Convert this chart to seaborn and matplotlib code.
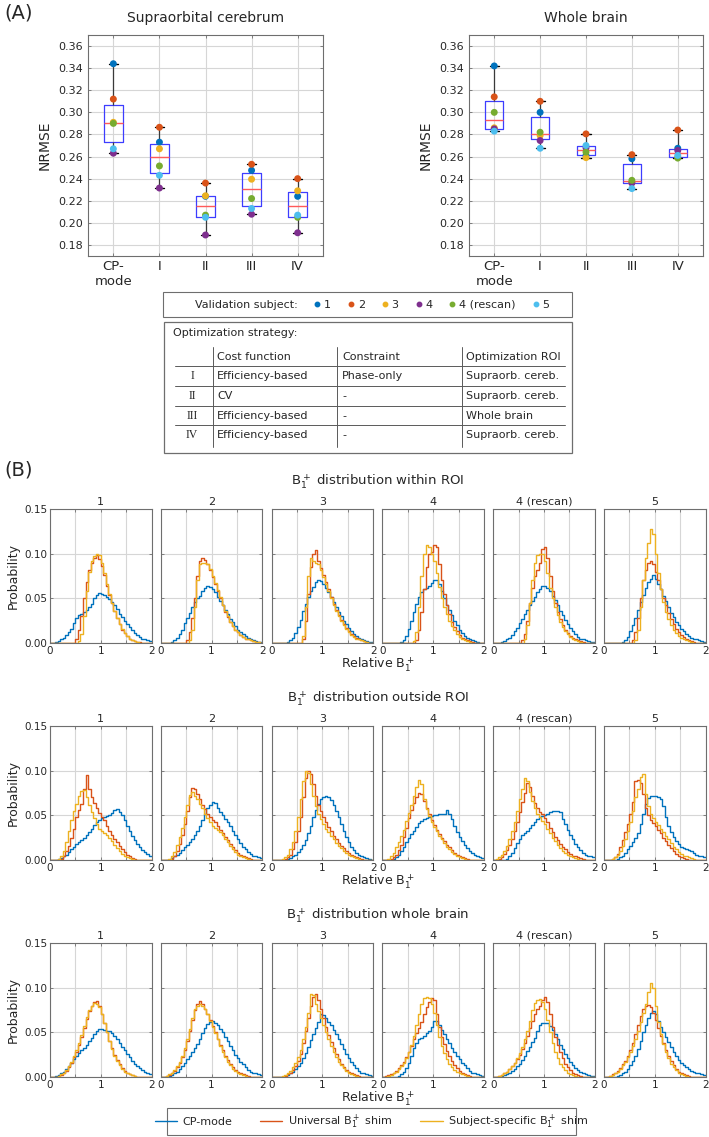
import numpy as np
import pandas as pd
import matplotlib
matplotlib.use("Agg")
import matplotlib.pyplot as plt
from matplotlib.lines import Line2D
from matplotlib.patches import Rectangle
import seaborn as sns

W, H = 709, 1137

# ---------------- panel A data ----------------
strategies = ["CP-\nmode", "I", "II", "III", "IV"]
subjects = ["1", "2", "3", "4", "4 (rescan)", "5"]
subject_colors = ["#0072BD", "#D95319", "#EDB120", "#7E2F8E", "#77AC30", "#4DBEEE"]

# NRMSE, rows = strategy, columns = subject
nrmse_supraorb = [
    [0.344, 0.312, 0.291, 0.263, 0.290, 0.267],
    [0.273, 0.2865, 0.267, 0.2315, 0.2515, 0.243],
    [0.224, 0.236, 0.2245, 0.189, 0.207, 0.205],
    [0.2475, 0.253, 0.2395, 0.2078, 0.222, 0.213],
    [0.224, 0.240, 0.229, 0.191, 0.205, 0.207],
]
nrmse_whole = [
    [0.342, 0.314, 0.286, 0.285, 0.300, 0.283],
    [0.300, 0.310, 0.279, 0.2745, 0.282, 0.2675],
    [0.261, 0.2805, 0.259, 0.268, 0.264, 0.270],
    [0.258, 0.2617, 0.2365, 0.236, 0.2385, 0.231],
    [0.2675, 0.284, 0.2595, 0.2655, 0.2586, 0.261],
]
nrmse_ticks = [0.18, 0.20, 0.22, 0.24, 0.26, 0.28, 0.30, 0.32, 0.34, 0.36]

table_ids = ["I", "II", "III", "IV"]
table_cost = ["Efficiency-based", "CV", "Efficiency-based", "Efficiency-based"]
table_constraint = ["Phase-only", "-", "-", "-"]
table_roi = ["Supraorb. cereb.", "Supraorb. cereb.", "Whole brain", "Supraorb. cereb."]

# ---------------- panel B data ----------------
# probability per bin (x 1e-3), 40 bins of 0.05 from 0 to 2, one list per subject
within_cp = [
    [0,0,1,2,4,6,9,12,16,22, 28,31,33,35,37,40,44,50,54,56, 55,54,52,49,46,42,38,33,29,25, 21,18,14,11,9,7,5,4,3,2],
    [0,0,0,0,1,3,6,10,15,22, 28,34,40,46,50,53,58,62,64,63, 61,57,52,47,42,37,32,27,23,19, 15,12,10,8,6,4,3,2,1,1],
    [0,0,0,0,0,0,1,3,6,11, 18,26,36,44,52,58,63,68,70,69, 66,62,57,51,46,40,35,30,25,21, 17,13,10,8,6,4,3,2,1,1],
    [0,0,0,0,0,0,0,1,3,8, 16,25,35,44,51,57,60,62,64,67, 70,71,66,58,50,43,37,31,25,20, 15,11,8,6,4,3,2,1,0,0],
    [0,0,0,1,2,4,6,9,13,17, 22,27,32,37,42,47,52,57,61,64, 64,62,58,53,48,42,36,31,26,21, 17,13,10,7,5,4,3,2,1,1],
    [0,0,0,0,0,0,0,1,3,7, 13,20,28,37,46,54,62,68,72,76, 72,66,60,53,47,40,34,29,24,20, 16,13,10,8,6,5,4,3,2,1],
]
within_universal = [
    [0,0,0,0,0,0,0,0,0,0, 5,15,30,50,68,82,90,95,98,94, 86,76,64,54,45,36,28,21,15,11, 8,5,3,2,1,1,0,0,0,0],
    [0,0,0,0,0,0,0,0,0,0, 3,12,28,50,75,92,95,93,88,82, 74,66,58,50,42,35,29,24,19,15, 12,9,7,5,4,3,2,1,1,0],
    [0,0,0,0,0,0,0,0,0,0, 0,0,5,25,55,85,100,104,92,84, 76,68,60,52,44,37,31,26,21,17, 13,10,8,6,4,3,2,1,0,0],
    [0,0,0,0,0,0,0,0,0,0, 0,0,0,3,15,35,60,85,100,102, 110,108,88,70,55,42,32,24,18,13, 9,6,4,3,2,1,0,0,0,0],
    [0,0,0,0,0,0,0,0,0,0, 0,3,10,25,45,62,75,82,90,105, 108,95,75,58,45,35,27,20,15,11, 8,6,4,3,2,1,0,0,0,0],
    [0,0,0,0,0,0,0,0,0,0, 0,3,12,28,50,70,82,90,92,88, 80,70,60,50,42,34,27,21,16,12, 9,7,5,3,2,1,0,0,0,0],
]
within_specific = [
    [0,0,0,0,0,0,0,0,0,0, 0,2,10,30,58,80,92,97,100,99, 90,78,66,55,45,36,28,21,16,11, 8,5,3,2,1,0,0,0,0,0],
    [0,0,0,0,0,0,0,0,0,0, 0,3,15,40,70,88,90,89,88,83, 75,67,59,51,43,36,30,24,19,15, 12,9,7,5,4,3,2,1,1,0],
    [0,0,0,0,0,0,0,0,0,0, 0,0,8,40,75,95,92,90,88,82, 74,66,58,50,43,36,30,25,20,16, 12,9,7,5,4,3,2,1,0,0],
    [0,0,0,0,0,0,0,0,0,0, 0,0,2,12,40,75,100,110,108,100, 92,78,63,50,40,32,25,19,14,10, 7,5,3,2,1,0,0,0,0,0],
    [0,0,0,0,0,0,0,0,0,0, 0,0,5,20,45,70,90,98,100,100, 92,78,62,50,40,31,24,18,13,10, 7,5,3,2,1,0,0,0,0,0],
    [0,0,0,0,0,0,0,0,0,0, 0,0,3,15,40,70,95,112,128,122, 100,78,60,46,35,27,20,15,11,8, 6,4,3,2,1,0,0,0,0,0],
]
outside_cp = [
    [0,0,0,1,2,4,6,9,12,15, 18,20,22,25,28,31,35,39,42,45, 47,48,49,50,53,56,57,54,50,45, 38,32,27,22,18,14,11,9,7,5],
    [0,0,0,0,2,4,6,8,11,14, 17,20,24,28,33,38,45,52,58,62, 65,64,58,54,50,46,42,38,33,28, 23,19,15,12,9,7,5,4,3,2],
    [0,0,0,0,0,0,1,2,4,6, 9,12,17,22,30,38,48,56,63,68, 71,72,70,67,62,55,48,40,33,26, 20,15,11,8,6,4,3,2,1,0],
    [0,0,0,0,1,3,6,10,15,20, 25,29,33,37,41,44,46,47,48,49, 50,50,51,52,51,56,52,46,38,31, 26,21,17,13,10,8,6,5,3,2],
    [0,0,0,0,0,1,4,8,13,19, 24,28,30,33,36,39,43,46,48,49, 50,52,54,55,55,55,54,46,40,34, 28,23,18,14,11,8,6,5,4,3],
    [0,0,0,0,0,1,3,5,8,12, 16,20,25,30,40,52,63,69,72,72, 72,71,68,60,48,38,31,26,21,18, 15,13,12,11,10,8,6,5,4,3],
]
outside_universal = [
    [0,0,0,0,1,5,10,16,25,35, 48,56,63,80,95,80,70,64,58,53, 48,45,38,33,28,24,20,16,12,9, 6,4,2,1,0,0,0,0,0,0],
    [0,0,0,0,1,4,10,18,28,40, 55,70,81,79,74,68,62,57,52,48, 45,42,38,34,30,26,22,18,14,11, 8,6,4,3,2,1,0,0,0,0],
    [0,0,0,0,0,1,3,6,12,20, 32,48,70,92,100,96,85,72,62,55, 48,42,37,32,27,23,19,16,13,10, 8,6,4,3,2,1,0,0,0,0],
    [0,0,0,1,3,6,11,17,26,36, 47,56,64,70,75,74,66,58,51,45, 39,34,29,25,21,17,14,11,8,6, 4,3,2,1,0,0,0,0,0,0],
    [0,0,1,3,7,11,17,24,33,42, 54,65,75,86,82,72,64,58,54,51, 47,42,36,31,26,22,18,15,12,9, 7,5,4,3,2,1,0,0,0,0],
    [0,0,0,1,3,7,14,22,31,40, 52,65,88,90,86,74,58,50,45,41, 38,34,30,25,21,17,13,10,7,5, 3,2,1,0,0,0,0,0,0,0],
]
outside_specific = [
    [0,0,0,1,4,10,20,32,45,55, 63,72,77,78,70,62,54,47,40,35, 32,30,28,25,21,17,13,10,7,5, 3,2,1,0,0,0,0,0,0,0],
    [0,0,0,1,4,9,17,26,36,48, 62,73,76,72,68,63,58,52,47,42, 38,36,34,31,28,24,20,16,12,9, 6,4,3,2,1,0,0,0,0,0],
    [0,0,0,0,1,3,6,12,20,32, 48,68,88,100,97,85,72,60,52,46, 40,35,31,27,23,19,16,13,10,8, 6,4,3,2,1,0,0,0,0,0],
    [0,0,1,4,8,14,20,27,34,44, 53,62,72,82,90,85,68,57,49,43, 37,32,27,23,19,15,12,9,7,5, 3,2,1,0,0,0,0,0,0,0],
    [0,1,3,6,10,16,23,32,42,55, 68,80,92,88,76,66,58,52,48,44, 40,35,30,25,21,17,13,10,8,6, 4,3,2,1,0,0,0,0,0,0],
    [0,0,0,1,3,6,10,16,24,33, 42,55,70,80,93,96,74,60,52,47, 43,39,35,31,27,23,19,15,12,9, 7,5,4,3,2,1,0,0,0,0],
]
whole_cp = [
    [0,0,1,2,4,6,9,12,16,20, 24,27,30,33,36,40,44,48,52,54, 54,53,52,51,49,46,42,38,34,30, 26,22,18,15,12,10,8,6,4,3],
    [0,0,0,1,2,4,6,9,12,16, 20,24,28,32,37,43,49,55,59,62, 63,61,58,54,50,45,40,35,30,25, 21,17,14,11,8,6,5,4,3,2],
    [0,0,0,0,0,1,2,4,6,9, 12,16,21,27,34,41,48,55,62,70, 69,66,62,58,53,48,43,37,31,26, 21,17,13,10,7,5,4,3,2,1],
    [0,0,0,0,0,0,1,3,6,10, 16,24,32,38,42,44,46,49,52,56, 63,63,58,53,48,43,38,33,28,24, 20,16,13,10,7,5,4,3,2,1],
    [0,0,0,1,2,3,5,7,9,12, 15,19,24,29,34,39,44,52,58,61, 61,60,57,53,48,42,36,31,26,21, 17,13,10,8,6,4,3,2,1,1],
    [0,0,0,0,0,1,2,4,6,9, 13,18,24,31,40,50,58,66,72,74, 70,63,56,50,45,39,34,28,23,19, 16,13,11,9,7,6,5,4,3,2],
]
whole_universal = [
    [0,0,0,1,2,4,7,11,16,22, 28,36,45,55,65,74,80,84,85,79, 70,60,50,40,32,25,19,14,10,7, 5,3,2,1,0,0,0,0,0,0],
    [0,0,1,2,4,7,11,16,22,30, 40,52,64,75,82,85,82,76,70,64, 57,50,43,36,30,24,19,15,11,8, 6,4,3,2,1,0,0,0,0,0],
    [0,0,0,0,0,1,3,5,8,12, 18,26,38,52,66,80,90,93,86,76, 66,56,47,39,32,26,20,15,11,8, 6,4,3,2,1,0,0,0,0,0],
    [0,1,2,3,5,7,10,13,17,22, 28,35,42,49,55,62,70,78,84,88, 86,70,56,45,37,29,23,18,13,10, 7,5,3,2,1,0,0,0,0,0],
    [0,0,1,2,4,6,9,12,16,20, 25,31,38,46,55,63,70,76,80,86, 90,84,70,56,45,36,28,21,15,11, 8,5,3,2,1,0,0,0,0,0],
    [0,0,1,3,5,7,10,14,18,24, 30,38,48,58,68,76,80,81,78,72, 64,55,46,38,30,24,18,13,9,6, 4,3,2,1,0,0,0,0,0,0],
]
whole_specific = [
    [0,0,0,1,3,5,8,12,17,23, 30,38,47,57,67,75,80,83,82,78, 70,60,50,40,31,24,18,13,9,6, 4,3,2,1,0,0,0,0,0,0],
    [0,0,1,3,5,8,12,17,24,32, 42,54,66,76,80,82,80,76,70,63, 56,49,42,35,28,22,17,13,9,7, 5,3,2,1,0,0,0,0,0,0],
    [0,0,0,0,1,2,4,7,11,16, 22,30,42,56,72,93,92,82,74,66, 58,50,42,35,28,22,17,13,10,7, 5,3,2,1,0,0,0,0,0,0],
    [0,0,1,2,4,6,9,12,16,21, 28,36,46,58,70,82,88,90,88,82, 72,58,45,35,27,20,15,11,8,6, 4,3,2,1,0,0,0,0,0,0],
    [0,0,1,2,4,6,9,12,16,21, 27,34,42,52,63,75,83,86,87,84, 76,64,50,38,28,21,15,11,8,5, 3,2,1,0,0,0,0,0,0,0],
    [0,0,1,2,4,6,9,13,17,22, 28,35,43,52,62,72,82,95,105,100, 80,62,48,37,28,21,15,11,8,5, 3,2,1,0,0,0,0,0,0,0],
]

row_titles = [r"B$_1^+$ distribution within ROI",
              r"B$_1^+$ distribution outside ROI",
              r"B$_1^+$ distribution whole brain"]
shim_labels = ["CP-mode", r"Universal B$_1^+$ shim", r"Subject-specific B$_1^+$ shim"]
shim_colors = ["#0072BD", "#D95319", "#EDB120"]

n_bins = 40
b1_range = (0.0, 2.0)
bin_centers = b1_range[0] + (np.arange(n_bins) + 0.5) * (b1_range[1] - b1_range[0]) / n_bins

# ---------------- style ----------------
sns.set_theme(style="white")
plt.rcParams["font.family"] = ["DejaVu Sans"]
plt.rcParams["mathtext.fontset"] = "dejavusans"
TXT = "#262626"
GRID = "#d6d6d6"
SPINE = "#6e6e6e"


def frac_axes(fig, x0, y0, x1, y1):
    return fig.add_axes([x0 / W, 1 - y1 / H, (x1 - x0) / W, (y1 - y0) / H])


def matlab_style(ax):
    ax.grid(True, color=GRID, linewidth=0.8)
    ax.set_axisbelow(True)
    for sp in ax.spines.values():
        sp.set_color(SPINE)
        sp.set_linewidth(0.8)
    ax.tick_params(direction="in", length=2.5, width=0.6, color=SPINE,
                   labelcolor=TXT, top=True, right=True, bottom=True, left=True)


fig = plt.figure(figsize=(W / 100, H / 100), dpi=100)

# ---------------- panel A ----------------
rows = []
for i, strat in enumerate(strategies):
    for j, subj in enumerate(subjects):
        rows.append((strat, subj, nrmse_supraorb[i][j], nrmse_whole[i][j]))
df = pd.DataFrame(rows, columns=["strategy", "subject", "supraorb", "whole"])

box_axes = [
    (frac_axes(fig, 88, 35, 323, 256), "supraorb", "Supraorbital cerebrum"),
    (frac_axes(fig, 469, 35, 703, 256), "whole", "Whole brain"),
]
for ax, col, title in box_axes:
    sns.boxplot(data=df, x="strategy", y=col, order=strategies, whis=(0, 100),
                width=0.4, fill=False, color="#3d3dff", linewidth=0.9,
                showfliers=False,
                medianprops=dict(color="#ff5a5a", linewidth=1.0),
                whiskerprops=dict(color="#3a3a3a", linewidth=0.9),
                capprops=dict(color="black", linewidth=1.0), ax=ax)
    sns.stripplot(data=df, x="strategy", y=col, order=strategies, hue="subject",
                  hue_order=subjects, palette=subject_colors, jitter=False,
                  size=5, linewidth=0, legend=False, zorder=4, ax=ax)
    matlab_style(ax)
    ax.set_xlim(-0.55, 4.55)
    ax.set_ylim(0.17, 0.37)
    ax.set_yticks(nrmse_ticks)
    ax.set_yticklabels([f"{v:.2f}" for v in nrmse_ticks])
    ax.tick_params(axis="y", labelsize=8)
    ax.tick_params(axis="x", labelsize=9.5, pad=3)
    ax.set_xlabel("")
    ax.set_ylabel("NRMSE", fontsize=10, color=TXT, labelpad=5)
    bb = ax.get_position()
    fig.text((bb.x0 + bb.x1) / 2, 1 - 18 / H, title, ha="center", va="center",
             fontsize=10, color=TXT)

fig.text(4 / W, 1 - 13 / H, "(A)", ha="left", va="center", fontsize=14, color=TXT)

# validation subject legend
fig.patches.append(Rectangle((163 / W, 1 - 317 / H), 409 / W, 25 / H,
                             transform=fig.transFigure, fill=False,
                             edgecolor=SPINE, linewidth=0.8))
sub_handles = [Line2D([], [], ls="none")] + [
    Line2D([], [], ls="none", marker="o", ms=3.2, color=c) for c in subject_colors]
fig.legend(sub_handles, ["Validation subject:"] + subjects, ncol=7,
           loc="center", bbox_to_anchor=(367 / W, 1 - 304.5 / H), frameon=False,
           fontsize=8, handlelength=0.6, handletextpad=0.3, columnspacing=1.5,
           labelcolor=TXT)

# optimization strategy table
tab = frac_axes(fig, 163, 321, 572, 453)
tab.set_xlim(163, 572)
tab.set_ylim(453, 321)
tab.axis("off")
tab.add_patch(Rectangle((163.5, 321.5), 408, 131, fill=False,
                        edgecolor=SPINE, linewidth=0.9, clip_on=False))
tab.text(173, 333, "Optimization strategy:", ha="left", va="center", fontsize=8, color=TXT)
col_x = [217, 342, 466]
for x, head in zip(col_x, ["Cost function", "Constraint", "Optimization ROI"]):
    tab.text(x, 357, head, ha="left", va="center", fontsize=8, color=TXT)
row_y = [376, 396, 416, 435]
for y, rid, cst, con, roi in zip(row_y, table_ids, table_cost, table_constraint, table_roi):
    tab.text(192, y, rid, ha="center", va="center", fontsize=8.5, color=TXT,
             family=["Liberation Serif", "DejaVu Serif"])
    for x, s in zip(col_x, [cst, con, roi]):
        tab.text(x, y, s, ha="left", va="center", fontsize=8, color=TXT)
for y in [366, 386, 406, 425]:
    tab.plot([175, 565], [y, y], color="#5a5a5a", linewidth=0.7)
for x in [213, 337, 462]:
    tab.plot([x, x], [347, 447], color="#5a5a5a", linewidth=0.7)

# ---------------- panel B ----------------
fig.text(4 / W, 1 - 470 / H, "(B)", ha="left", va="center", fontsize=14, color=TXT)

row_tops = [509, 726, 943]
hist_rows = [
    (within_cp, within_universal, within_specific),
    (outside_cp, outside_universal, outside_specific),
    (whole_cp, whole_universal, whole_specific),
]
panel_left = [50, 160.8, 271.6, 382.4, 493.2, 604]
panel_w = 101.5
panel_h = 134

for r, series in enumerate(hist_rows):
    top = row_tops[r]
    fig.text(378 / W, 1 - (top - 27) / H, row_titles[r], ha="center", va="center",
             fontsize=9.5, color=TXT)
    fig.text(378 / W, 1 - (top + panel_h + 22) / H, r"Relative B$_1^+$",
             ha="center", va="center", fontsize=9, color=TXT)
    for c in range(6):
        ax = frac_axes(fig, panel_left[c], top, panel_left[c] + panel_w, top + panel_h)
        for vals, color in zip(series, shim_colors):
            hd = pd.DataFrame({"b1": bin_centers, "prob": np.array(vals[c]) / 1000.0})
            sns.histplot(data=hd, x="b1", weights="prob", bins=n_bins,
                         binrange=b1_range, element="step", fill=False,
                         color=color, linewidth=1.0, ax=ax)
        matlab_style(ax)
        ax.set_xlim(0, 2)
        ax.set_ylim(0, 0.15)
        ax.set_xticks([0, 0.5, 1, 1.5, 2])
        ax.set_xticklabels(["0", "", "1", "", "2"])
        ax.set_yticks([0, 0.05, 0.10, 0.15])
        if c == 0:
            ax.set_yticklabels(["0.00", "0.05", "0.10", "0.15"])
            ax.set_ylabel("Probability", fontsize=9, color=TXT, labelpad=3)
        else:
            ax.set_yticklabels([])
            ax.set_ylabel("")
        ax.set_xlabel("")
        ax.tick_params(labelsize=7.5, pad=2)
        ax.set_title(subjects[c], fontsize=8, color=TXT, pad=3)

# shim legend
fig.patches.append(Rectangle((167 / W, 1 - 1135 / H), 409 / W, 27 / H,
                             transform=fig.transFigure, fill=False,
                             edgecolor=SPINE, linewidth=0.8))
shim_handles = [Line2D([], [], color=c, linewidth=1.0) for c in shim_colors]
fig.legend(shim_handles, shim_labels, ncol=3, loc="center",
           bbox_to_anchor=(371.5 / W, 1 - 1121.5 / H), frameon=False,
           fontsize=8, handlelength=2.0, handletextpad=0.5, columnspacing=2.5,
           labelcolor=TXT)

fig.savefig("out.png", dpi=100)
